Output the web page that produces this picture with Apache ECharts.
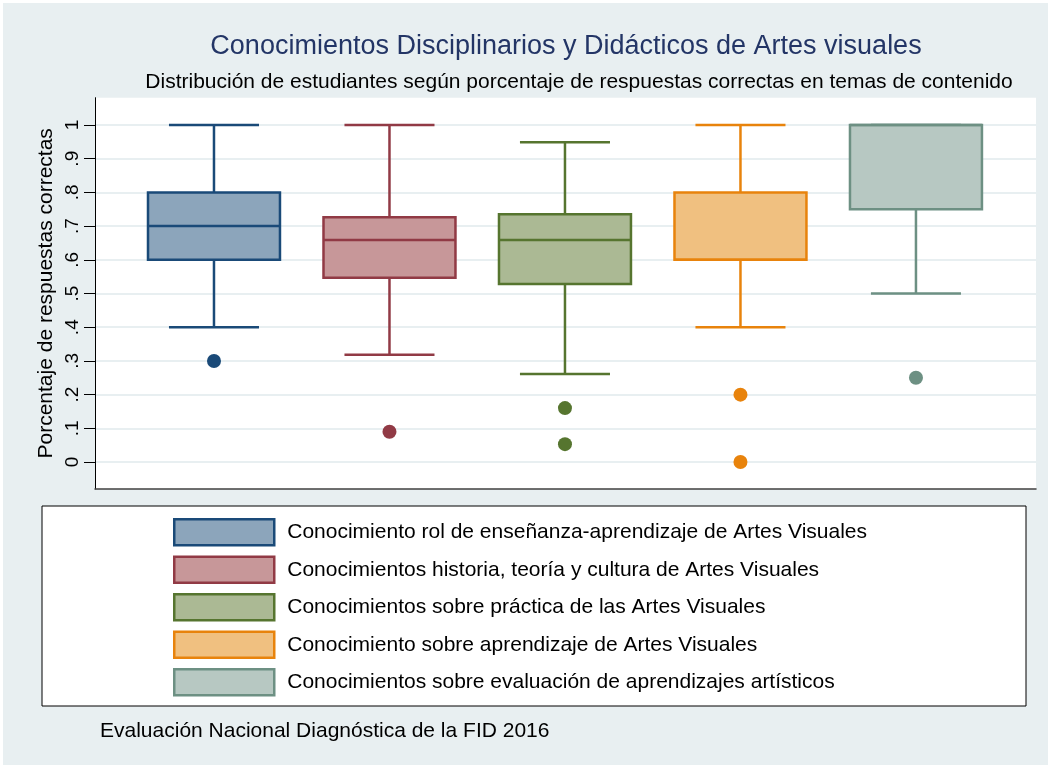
<!DOCTYPE html>
<html>
<head>
<meta charset="utf-8">
<script src="https://cdn.jsdelivr.net/npm/echarts@6/dist/echarts.min.js"></script>
<style>
  html, body { margin: 0; padding: 0; background: #ffffff; }
  #chart { width: 1048px; height: 765px; background: #e8eff1; box-shadow: inset 3px 3px 0 #ffffff; }
</style>
</head>
<body>
<div id="chart"></div>
<script>
// ---- data ----
const categories = [
  'Conocimiento rol de enseñanza-aprendizaje de Artes Visuales',
  'Conocimientos historia, teoría y cultura de Artes Visuales',
  'Conocimientos sobre práctica de las Artes Visuales',
  'Conocimiento sobre aprendizaje de Artes Visuales',
  'Conocimientos sobre evaluación de aprendizajes artísticos'
];
const lowerWhisker = [0.40, 0.318, 0.261, 0.40, 0.50];
const q1Values     = [0.60, 0.547, 0.528, 0.60, 0.75];
const medianValues = [0.70, 0.659, 0.659, 0.60, 1.00];
const q3Values     = [0.80, 0.726, 0.735, 0.80, 1.00];
const upperWhisker = [1.00, 1.00, 0.949, 1.00, 1.00];
const outliers = [[0.30], [0.09], [0.16, 0.053], [0.20, 0.0], [0.25]];
const yTickValues = [0, 0.1, 0.2, 0.3, 0.4, 0.5, 0.6, 0.7, 0.8, 0.9, 1];

// ---- styles ----
const strokeColors = ['#1a4a78', '#913a45', '#56752f', '#e8830c', '#6d9083'];
const fillColors   = ['#8ca5bb', '#c79799', '#abb994', '#f0c080', '#b7c8c2'];
const FONT = '"Liberation Sans", Arial, sans-serif';

const chart = echarts.init(document.getElementById('chart'), null, { renderer: 'canvas' });

function makeRender(idx) {
  return function (params, api) {
    const x = api.value(0);
    const lo = api.coord([x, api.value(1)]);
    const q1 = api.coord([x, api.value(2)]);
    const md = api.coord([x, api.value(3)]);
    const q3 = api.coord([x, api.value(4)]);
    const hi = api.coord([x, api.value(5)]);
    const band = api.size([1, 0])[0];
    const bw = band * 0.752, cw = band * 0.513;
    const lineStyle = { stroke: strokeColors[idx], lineWidth: 2.5, fill: null };
    const cx = lo[0];
    return {
      type: 'group',
      children: [
        { type: 'line', shape: { x1: cx, y1: lo[1], x2: cx, y2: q1[1] }, style: lineStyle },
        { type: 'line', shape: { x1: cx, y1: q3[1], x2: cx, y2: hi[1] }, style: lineStyle },
        { type: 'line', shape: { x1: cx - cw / 2, y1: lo[1], x2: cx + cw / 2, y2: lo[1] }, style: lineStyle },
        { type: 'line', shape: { x1: cx - cw / 2, y1: hi[1], x2: cx + cw / 2, y2: hi[1] }, style: lineStyle },
        { type: 'rect', shape: { x: cx - bw / 2, y: q3[1], width: bw, height: q1[1] - q3[1] },
          style: { fill: fillColors[idx], stroke: strokeColors[idx], lineWidth: 2.5 } },
        { type: 'line', shape: { x1: cx - bw / 2, y1: md[1], x2: cx + bw / 2, y2: md[1] }, style: lineStyle }
      ]
    };
  };
}

const series = [];
categories.forEach((name, i) => {
  series.push({
    name: name,
    type: 'custom',
    xAxisIndex: 0, yAxisIndex: 0,
    renderItem: makeRender(i),
    encode: { x: 0, y: [1, 2, 3, 4, 5] },
    data: [[i + 1, lowerWhisker[i], q1Values[i], medianValues[i], q3Values[i], upperWhisker[i]]],
    z: 3
  });
  series.push({
    name: name,
    type: 'scatter',
    xAxisIndex: 0, yAxisIndex: 0,
    symbol: 'circle',
    symbolSize: 14,
    itemStyle: { color: strokeColors[i], opacity: 1 },
    data: outliers[i].map(v => [i + 1, v]),
    z: 4
  });
});

const option = {
  animation: false,
  backgroundColor: 'transparent',
  textStyle: { fontFamily: FONT },
  grid: [
    { left: 95, right: 12, top: 97.7, bottom: 276, show: true, backgroundColor: '#ffffff', borderWidth: 0 },
    { left: 42, right: 22, top: 506, bottom: 59, show: true, backgroundColor: '#ffffff', borderColor: '#000000', borderWidth: 1 }
  ],
  xAxis: [
    { gridIndex: 0, type: 'value', min: 0.322, max: 5.684,
      axisLine: { show: true, onZero: false, lineStyle: { color: '#404040', width: 1.5 } },
      axisTick: { show: false }, axisLabel: { show: false }, splitLine: { show: false } },
    { gridIndex: 1, type: 'value', show: false }
  ],
  yAxis: [
    { gridIndex: 0, type: 'value', min: -0.08, max: 1.081,
      name: 'Porcentaje de respuestas correctas',
      nameLocation: 'middle', nameGap: 38, nameMoveOverlap: false,
      nameTextStyle: { fontFamily: FONT, fontSize: 21, color: '#000' },
      axisLine: { show: true, lineStyle: { color: '#000', width: 1 } },
      axisTick: { show: true, length: 11, customValues: yTickValues, lineStyle: { color: '#000', width: 1 } },
      axisLabel: { show: true, rotate: 90, margin: 13, fontFamily: FONT, fontSize: 19, color: '#000',
        customValues: yTickValues,
        formatter: function (v) {
          const r = Math.round(v * 10) / 10;
          if (r === 0) return '0';
          if (r === 1) return '1';
          return '.' + Math.round(r * 10);
        } },
      splitLine: { show: true, lineStyle: { color: '#e8eff1', width: 2 } }
    },
    { gridIndex: 1, type: 'value', show: false }
  ],
  legend: {
    orient: 'vertical',
    left: 168, top: 513,
    itemWidth: 100, itemHeight: 26, itemGap: 9,
    textStyle: { fontFamily: FONT, fontSize: 21, color: '#000', padding: [0, 0, 0, 8] },
    data: categories.map((n, i) => ({
      name: n, icon: 'rect',
      itemStyle: { color: fillColors[i], borderColor: strokeColors[i], borderWidth: 2.5 }
    }))
  },
  graphic: [
    { type: 'text', x: 566, y: 47, style: { text: 'Conocimientos Disciplinarios y Didácticos de Artes visuales',
      font: '27px ' + FONT, fill: '#233566', textAlign: 'center', textVerticalAlign: 'middle' } },
    { type: 'text', x: 579, y: 82, style: { text: 'Distribución de estudiantes según porcentaje de respuestas correctas en temas de contenido',
      font: '21px ' + FONT, fill: '#000', textAlign: 'center', textVerticalAlign: 'middle' } },
    { type: 'text', x: 100, y: 731, style: { text: 'Evaluación Nacional Diagnóstica de la FID 2016',
      font: '21px ' + FONT, fill: '#000', textAlign: 'left', textVerticalAlign: 'middle' } }
  ],
  series: series
};
chart.setOption(option);
</script>
</body>
</html>
